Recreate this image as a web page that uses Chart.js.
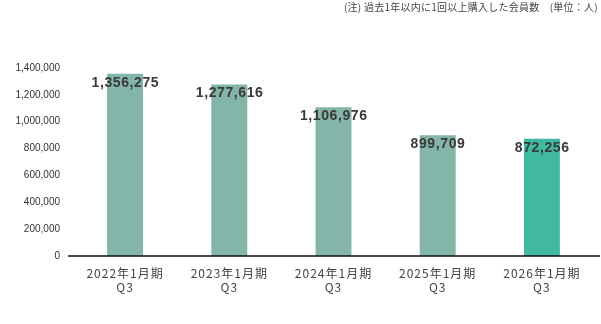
<!DOCTYPE html>
<html><head><meta charset="utf-8">
<script src="https://cdn.jsdelivr.net/npm/chart.js@4/dist/chart.umd.min.js"></script>
<style>html,body{margin:0;padding:0;background:#fff}#wrap{width:601px;height:324px}</style>
</head><body><div id="wrap"><canvas id="c" width="601" height="324"></canvas></div>
<script>
const categories = [["2022年1月期","Q3"],["2023年1月期","Q3"],["2024年1月期","Q3"],["2025年1月期","Q3"],["2026年1月期","Q3"]];
const members = [1356275, 1277616, 1106976, 899709, 872256];
const barColors = ["#84b5a9","#84b5a9","#84b5a9","#84b5a9","#41b8a0"];
const noteText = "(注) 過去1年以内に1回以上購入した会員数　(単位：人)";
const FONT = "'Liberation Sans', Arial, 'Noto Sans CJK JP', sans-serif";

function spaced(scale, px) {
  if (scale._spacedWrap) return;
  scale._spacedWrap = true;
  const orig = scale.drawLabels;
  scale.drawLabels = function (area) {
    const ctx = this.ctx;
    const prev = ctx.letterSpacing;
    ctx.letterSpacing = px;
    orig.call(this, area);
    ctx.letterSpacing = prev || "0px";
  };
}

const valueLabels = {
  id: 'valueLabels',
  afterDatasetsDraw(chart) {
    const ctx = chart.ctx;
    const meta = chart.getDatasetMeta(0);
    ctx.save();
    ctx.font = "bold 14px " + FONT;
    ctx.letterSpacing = "0.6px";
    ctx.fillStyle = "#3a3a3a";
    ctx.textAlign = "center";
    ctx.textBaseline = "middle";
    meta.data.forEach((bar, i) => {
      ctx.fillText(members[i].toLocaleString('en-US'), bar.x + 0.3, bar.y + 9);
    });
    ctx.letterSpacing = "0px";
    // zero line
    const y = chart.scales.y.getPixelForValue(0);
    ctx.strokeStyle = "#111";
    ctx.lineWidth = 1.5;
    ctx.beginPath();
    ctx.moveTo(68, y);
    ctx.lineTo(600, y);
    ctx.stroke();
    // note
    ctx.font = "10px 'Noto Sans CJK JP', sans-serif";
    ctx.letterSpacing = "0.25px";
    ctx.fillStyle = "#444";
    ctx.textAlign = "right";
    ctx.textBaseline = "middle";
    ctx.fillText(noteText, 598, 7);
    ctx.letterSpacing = "0px";
    ctx.restore();
  }
};

new Chart(document.getElementById('c'), {
  type: 'bar',
  data: {
    labels: categories,
    datasets: [{ data: members, backgroundColor: barColors, categoryPercentage: 1, barPercentage: 0.345 }]
  },
  options: {
    responsive: false,
    animation: false,
    layout: { padding: { top: 68, right: 7, left: 0, bottom: 0 } },
    plugins: { legend: { display: false }, tooltip: { enabled: false } },
    scales: {
      x: {
        grid: { display: false, drawTicks: false },
        border: { display: false },
        ticks: { color: "#444", font: { family: "'Noto Sans CJK JP', sans-serif", size: 12, lineHeight: 1.15 }, padding: 11, maxRotation: 0 },
        afterFit(s) { s.height = 68; spaced(s, "1px"); }
      },
      y: {
        min: 0, max: 1400000,
        grid: { display: false, drawTicks: false },
        border: { display: false },
        ticks: { stepSize: 200000, color: "#333", font: { family: FONT, size: 10 }, padding: 13,
          callback: v => v.toLocaleString('en-US') },
        afterFit(s) { s.width = 73; spaced(s, "0px"); }
      }
    }
  },
  plugins: [valueLabels]
});
</script></body></html>
